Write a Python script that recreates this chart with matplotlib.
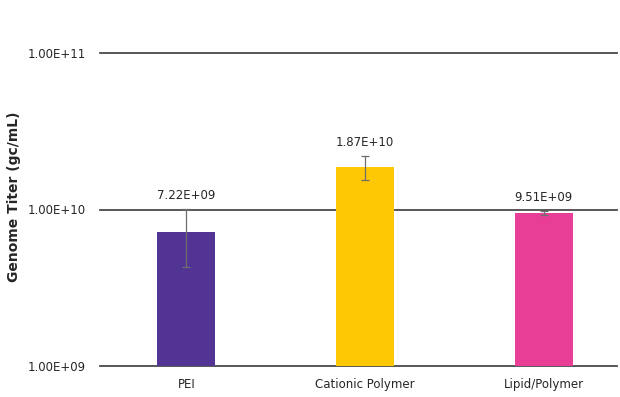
import matplotlib
matplotlib.use("Agg")
import matplotlib.pyplot as plt
from matplotlib.ticker import FixedLocator, FixedFormatter

# data
categories = ["PEI", "Cationic Polymer", "Lipid/Polymer"]
titers = [7.22e9, 1.87e10, 9.51e9]
errors = [2.9e9, 3.3e9, 3.0e8]
value_labels = ["7.22E+09", "1.87E+10", "9.51E+09"]
ytick_vals = [1e9, 1e10, 1e11]
ytick_labels = ["1.00E+09", "1.00E+10", "1.00E+11"]

# style
COLORS = ["#523494", "#FFC805", "#E83E96"]
GRID = "#4a4a4a"
INK = "#262626"

plt.rcParams.update({
    "font.family": ["DejaVu Sans"],
    "font.size": 8.5,
})

fig = plt.figure(figsize=(6.2, 3.97), dpi=100)
fig.patch.set_facecolor("white")
W, H = 620, 397
ax_l, ax_r, ax_t, ax_b = 100, 617, 53, 366
ax = fig.add_axes([ax_l / W, 1 - ax_b / H, (ax_r - ax_l) / W, (ax_b - ax_t) / H])

x = list(range(len(categories)))
ax.bar(x, titers, width=0.325, color=COLORS, zorder=3)
ax.errorbar(x, titers, yerr=errors, fmt="none", ecolor="#6e6e6e",
            elinewidth=0.9, capsize=3, capthick=0.9, zorder=4)

for xi, v, e, lab in zip(x, titers, errors, value_labels):
    ax.annotate(lab, (xi, v + e), xytext=(0, 13), textcoords="offset pixels",
                ha="center", va="center", fontsize=8.5, color=INK, zorder=5)

ax.set_yscale("log")
ax.set_ylim(1e9, 1e11)
ax.set_xlim(-0.483, 2.41)
ax.yaxis.set_major_locator(FixedLocator(ytick_vals))
ax.yaxis.set_major_formatter(FixedFormatter(ytick_labels))
ax.yaxis.set_minor_locator(FixedLocator([]))
ax.set_xticks(x)
ax.set_xticklabels(categories)
ax.tick_params(axis="both", length=0, labelsize=8.5, colors=INK)
ax.tick_params(axis="y", pad=10)
ax.tick_params(axis="x", pad=8.5)

for s in ax.spines.values():
    s.set_visible(False)
for yv in ytick_vals:
    ax.axhline(yv, color=GRID, linewidth=1.3, zorder=1, clip_on=False)
ax.set_facecolor("white")

fig.text(14 / W, 1 - 197 / H, "Genome Titer (gc/mL)", rotation=90,
         ha="center", va="center", fontsize=10, fontweight="bold", color=INK)

fig.savefig("out.png", dpi=100, facecolor="white")
